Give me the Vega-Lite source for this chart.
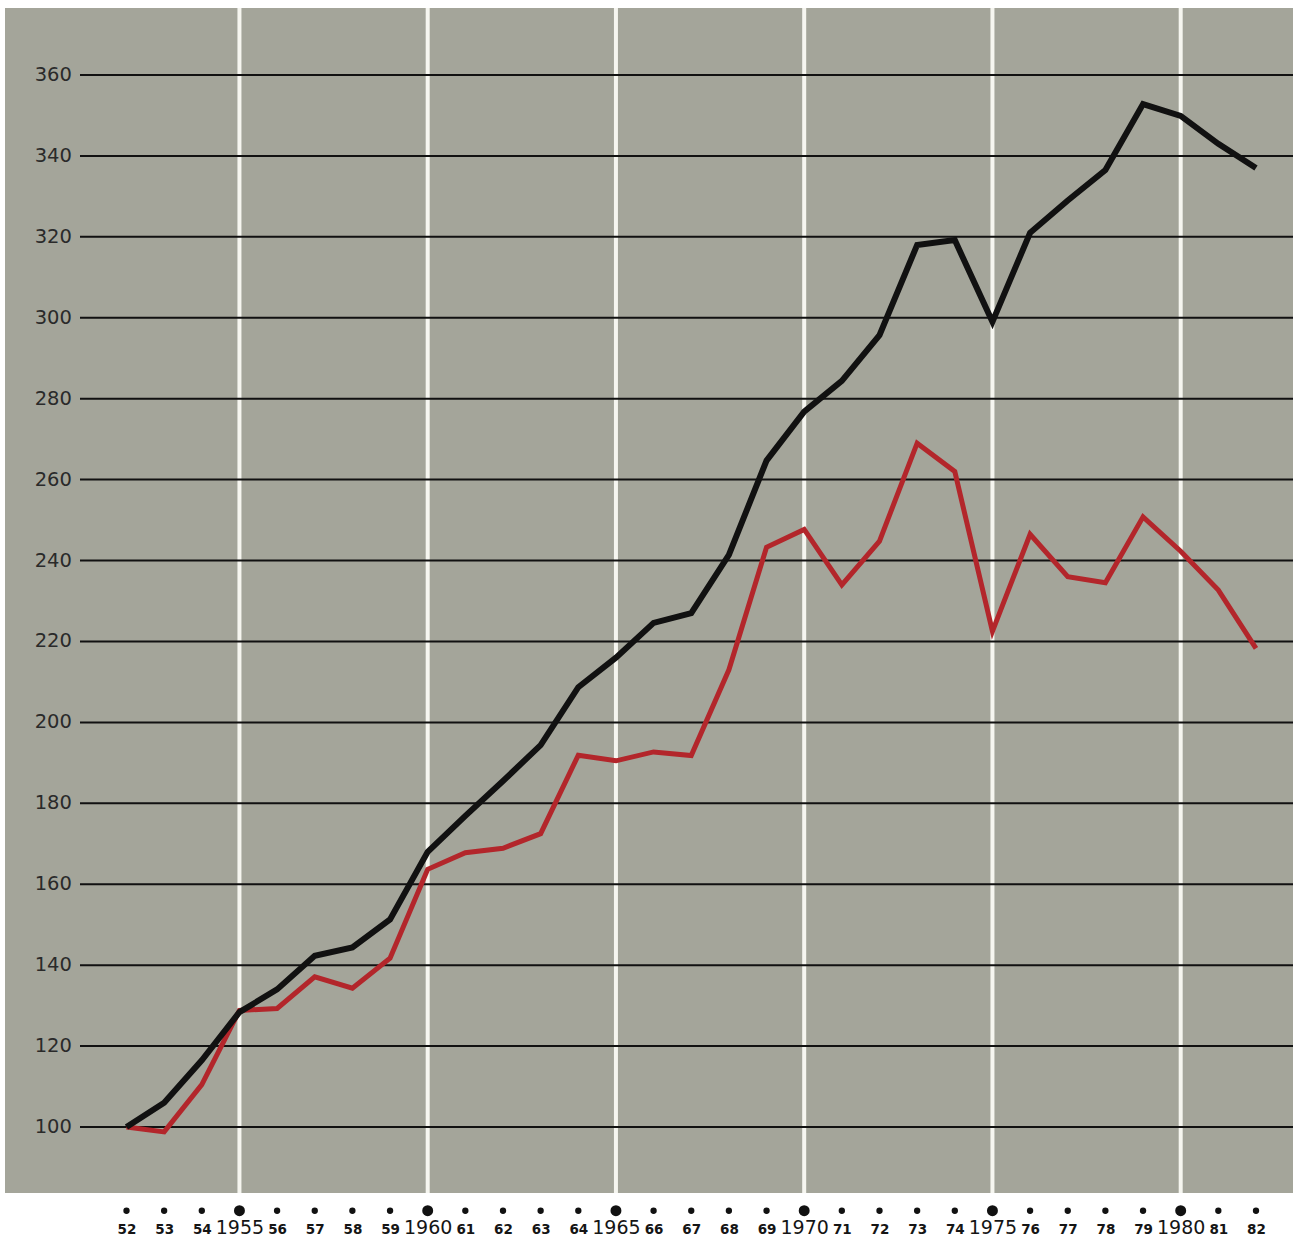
{
  "$schema": "https://vega.github.io/schema/vega-lite/v6.json",
  "width": 1288,
  "height": 1185,
  "autosize": {"type": "none"},
  "padding": {"left": 5, "top": 8, "right": 0, "bottom": 43},
  "background": "white",
  "config": {"view": {"fill": "#a4a59a", "stroke": null}, "font": "DejaVu Sans"},
  "datasets": {
    "series": [
      {"year": 1952, "black": 100, "red": 100},
      {"year": 1953, "black": 106, "red": 98.8},
      {"year": 1954, "black": 116.5, "red": 110.5},
      {"year": 1955, "black": 128.4, "red": 128.8},
      {"year": 1956, "black": 134, "red": 129.3},
      {"year": 1957, "black": 142.3, "red": 137.1},
      {"year": 1958, "black": 144.4, "red": 134.3},
      {"year": 1959, "black": 151.3, "red": 141.7},
      {"year": 1960, "black": 168, "red": 163.7},
      {"year": 1961, "black": 176.9, "red": 167.8},
      {"year": 1962, "black": 185.5, "red": 168.9},
      {"year": 1963, "black": 194.4, "red": 172.5},
      {"year": 1964, "black": 208.7, "red": 191.9},
      {"year": 1965, "black": 216, "red": 190.5},
      {"year": 1966, "black": 224.6, "red": 192.7},
      {"year": 1967, "black": 227, "red": 191.8},
      {"year": 1968, "black": 241.4, "red": 213},
      {"year": 1969, "black": 264.7, "red": 243.3},
      {"year": 1970, "black": 276.8, "red": 247.7},
      {"year": 1971, "black": 284.4, "red": 234},
      {"year": 1972, "black": 295.7, "red": 244.8},
      {"year": 1973, "black": 318, "red": 269},
      {"year": 1974, "black": 319.2, "red": 262},
      {"year": 1975, "black": 299, "red": 222.5},
      {"year": 1976, "black": 321, "red": 246.5},
      {"year": 1977, "black": 329, "red": 236},
      {"year": 1978, "black": 336.5, "red": 234.5},
      {"year": 1979, "black": 352.8, "red": 250.8},
      {"year": 1980, "black": 349.9, "red": 242.3},
      {"year": 1981, "black": 343, "red": 232.7},
      {"year": 1982, "black": 337, "red": 218.3}
    ],
    "grid": [
      {"v": 100}, {"v": 120}, {"v": 140}, {"v": 160}, {"v": 180}, {"v": 200}, {"v": 220},
      {"v": 240}, {"v": 260}, {"v": 280}, {"v": 300}, {"v": 320}, {"v": 340}, {"v": 360}
    ],
    "five": [
      {"year": 1955}, {"year": 1960}, {"year": 1965}, {"year": 1970}, {"year": 1975}, {"year": 1980}
    ]
  },
  "layer": [
    {
      "data": {"name": "five"},
      "mark": {"type": "rule", "color": "#f6f6f0", "strokeWidth": 4},
      "encoding": {
        "x": {"field": "year", "type": "quantitative",
              "scale": {"domain": [1948.773, 1982.983], "nice": false, "zero": false},
              "axis": {
                "values": [1952,1953,1954,1955,1956,1957,1958,1959,1960,1961,1962,1963,1964,1965,1966,1967,1968,1969,1970,1971,1972,1973,1974,1975,1976,1977,1978,1979,1980,1981,1982],
                "format": "d",
                "labelExpr": "datum.value % 5 == 0 ? datum.label : substring(datum.label, 2, 4)",
                "title": null, "domain": false, "ticks": false, "tickSize": 0, "grid": false,
                "labelBaseline": "alphabetic", "labelPadding": 40,
                "labelFlush": false, "labelOverlap": false,
                "labelColor": "#151515",
                "labelFont": "DejaVu Sans",
                "labelFontSize": {"condition": {"test": "datum.value % 5 == 0", "value": 19}, "value": 13.5},
                "labelFontWeight": {"condition": {"test": "datum.value % 5 == 0", "value": "normal"}, "value": "bold"}
              }}
      }
    },
    {
      "data": {"name": "grid"},
      "mark": {"type": "rule", "color": "#111111", "strokeWidth": 2},
      "encoding": {
        "y": {"field": "v", "type": "quantitative",
              "scale": {"domain": [83.69, 376.56], "nice": false, "zero": false},
              "axis": null},
        "x": {"datum": 1950.765, "type": "quantitative"},
        "x2": {"datum": 1982.983}
      }
    },
    {
      "data": {"name": "grid"},
      "mark": {"type": "text", "align": "right", "baseline": "middle", "fontSize": 19.5, "color": "#2a2a2a", "font": "DejaVu Sans"},
      "encoding": {
        "y": {"field": "v", "type": "quantitative"},
        "x": {"datum": 1950.55, "type": "quantitative"},
        "text": {"field": "v", "type": "quantitative", "format": "d"}
      }
    },
    {
      "data": {"name": "series"},
      "mark": {"type": "line", "color": "#b3262b", "strokeWidth": 5, "strokeJoin": "miter"},
      "encoding": {
        "x": {"field": "year", "type": "quantitative"},
        "y": {"field": "red", "type": "quantitative"}
      }
    },
    {
      "data": {"name": "series"},
      "mark": {"type": "line", "color": "#111111", "strokeWidth": 6, "strokeJoin": "miter"},
      "encoding": {
        "x": {"field": "year", "type": "quantitative"},
        "y": {"field": "black", "type": "quantitative"}
      }
    },
    {
      "data": {"name": "series"},
      "mark": {"type": "point", "filled": true, "color": "#111111", "opacity": 1},
      "encoding": {
        "x": {"field": "year", "type": "quantitative"},
        "y": {"datum": 79.31, "type": "quantitative"},
        "size": {"condition": {"test": "datum.year % 5 == 0", "value": 120}, "value": 40}
      }
    }
  ]
}
